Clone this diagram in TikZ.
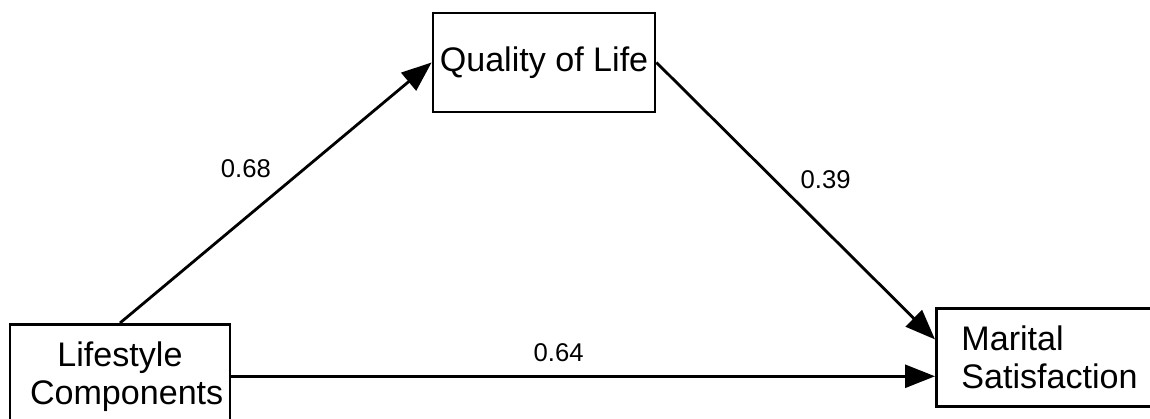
\documentclass[tikz,border=0pt]{standalone}
\usepackage{fontspec}
\setmainfont{Liberation Sans}
\usetikzlibrary{arrows.meta}

\begin{document}
\begin{tikzpicture}[>={Triangle[length=0.6cm, width=0.46cm]},
    line width=1.6pt,
    box/.style={rectangle, draw, fill=white,
      font=\fontsize{19.4}{21.6}\selectfont},
    lbl/.style={font=\fontsize{14.6}{17}\selectfont, inner sep=2pt}]
  \useasboundingbox (0,0) rectangle (23,-8.38);
  \node (qol)  [box, minimum width=4.44cm, minimum height=1.98cm] at (10.88,-1.25) {Quality of Life};
  \node (life) [box, anchor=north, text width=3.6cm, align=center,
                inner xsep=0.4cm, inner ysep=0.34cm] at (2.4,-6.46) {Lifestyle\\Components};
  \node (mar)  [box, anchor=north west, text width=3.6cm, align=left,
                inner xsep=0.5cm, minimum height=1.96cm] at (18.7,-6.14) {Marital\\Satisfaction};
  \draw[->] (life.north) -- node[lbl, above left, yshift=0.2cm] {0.68} (qol.west);
  \draw[->] (qol.east) -- node[lbl, above right, yshift=0.14cm] {0.39} ([yshift=0.36cm]mar.west);
  \draw[->] (life.east) -- node[lbl, above, pos=0.465, yshift=0.2cm] {0.64} (life.east -| mar.west);
\end{tikzpicture}
\end{document}
